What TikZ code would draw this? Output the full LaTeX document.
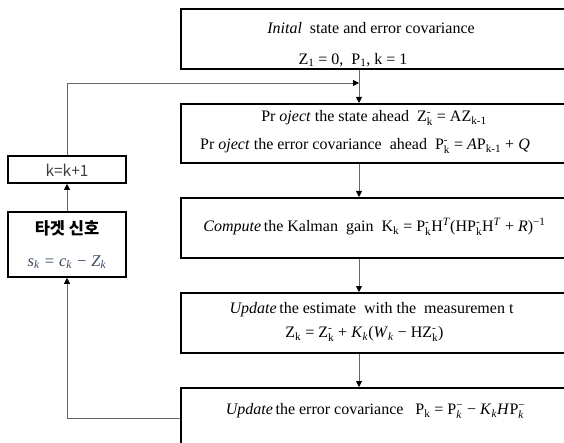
\documentclass[tikz,border=0pt]{standalone}
\usepackage{fontspec}
\usepackage{amsmath}
\setmainfont{Liberation Serif}
\newfontfamily\kor{Noto Sans CJK KR}
\usetikzlibrary{arrows.meta}
\newcommand\Lo[1]{$_{\text{#1}}$}
\newcommand\Hi[1]{$^{\text{#1}}$}
\newcommand\LH[2]{$_{\text{#1}}^{\text{#2}}$}
\begin{document}
\begin{tikzpicture}[x=1pt,y=-1pt,
  box/.style={draw=black, line width=1.6pt, minimum width=400pt, anchor=north west, inner sep=0pt},
  lbox/.style={draw=black, line width=1.6pt, minimum width=118pt, inner sep=0pt},
  conn/.style={draw=black!60, line width=0.9pt},
  arr/.style={conn, -{Triangle[length=6pt,width=6pt,color=black]}},
  txt/.style={font=\fontsize{16}{19}\selectfont, inner sep=0pt}]
\clip (0,0) rectangle (564,443);
\fill[white] (0,0) rectangle (564,443);
% main boxes
\node[box, minimum height=60pt] (b1) at (180,8) {};
\node[box, minimum height=59pt] (b2) at (180,103) {};
\node[box, minimum height=60pt] (b3) at (180,197) {};
\node[box, minimum height=60pt] (b4) at (180,292) {};
\node[box, minimum height=70pt] (b5) at (180,387) {};
% left boxes
\node[lbox, minimum height=27pt] (kb) at (67,169.5) {};
\node[lbox, minimum height=65pt] (tb) at (67,244.5) {};
% texts
\node[txt] (t1a) at (371,28) {\textit{Inital}~ state and error covariance};
\node[txt] (t1b) at (353,60) {Z\Lo{1} = 0,~ P\Lo{1}, k = 1};
\node[txt] (t2a) at (374,118) {Pr \textit{oject} the state ahead~ Z\LH{k}{-} = AZ\Lo{k-1}};
\node[txt] (t2b) at (365,146) {Pr \textit{oject} the error covariance~ ahead~ P\LH{k}{-} = \textit{A}P\Lo{k-1} + \textit{Q}};
\node[txt] (t3) at (374.5,227) {\textit{Compute}\,the Kalman~ gain~ K\Lo{k} = P\LH{k}{-}H\Hi{\textit{T}}(HP\LH{k}{-}H\Hi{\textit{T}} + \textit{R})\Hi{−1}};
\node[txt] (t4a) at (371.5,310) {\textit{Update}\,the estimate~ with the~ measuremen t};
\node[txt] (t4b) at (364.5,334) {Z\Lo{k} = Z\LH{k}{-} + \textit{K}\Lo{\textit{k}}(\textit{W}\Lo{\textit{k}} − HZ\LH{k}{-})};
\node[txt] (t5) at (375.5,411) {\textit{Update}\,the error covariance~~ P\Lo{k} = P\LH{\textit{k}}{−} − \textit{K}\Lo{\textit{k}}\textit{H}P\LH{\textit{k}}{−}};
\node[font=\kor\fontsize{15.5}{18}\selectfont, text=black!75, inner sep=0pt] (kt) at (67,170) {k=k+1};
\node[font=\kor\bfseries\fontsize{16.5}{19}\selectfont, inner sep=0pt] (tt) at (67,228) {타겟 신호};
\node[font=\fontsize{16.5}{19}\selectfont\itshape, text={rgb,255:red,60;green,75;blue,100}, inner sep=0pt] (st) at (67,262) {s\Lo{k} = c\Lo{k} − Z\Lo{k}};
% connectors
\coordinate (cx) at (359,0);
\coordinate (j) at (359,83);
\coordinate (bl) at (180,418);
\draw[arr] (b1.south -| cx) -- (b2.north -| cx);
\draw[arr] (b2.south -| cx) -- (b3.north -| cx);
\draw[arr] (b3.south -| cx) -- (b4.north -| cx);
\draw[arr] (b4.south -| cx) -- (b5.north -| cx);
\draw[arr] (kb.north) |- (j);
\draw[arr] (tb.north) -- (kb.south);
\draw[arr] (bl) -| (tb.south);
\end{tikzpicture}
\end{document}
